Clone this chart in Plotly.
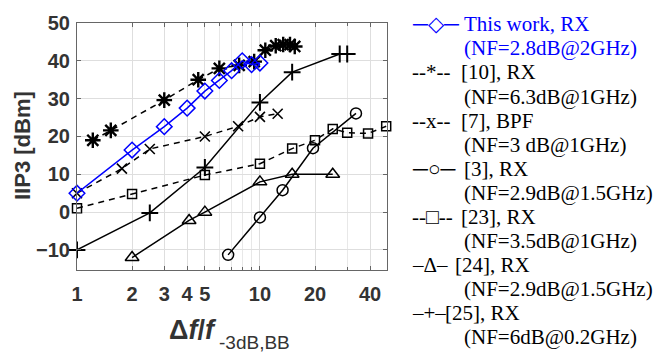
import plotly.graph_objects as go
import math

# ---- data ----
this_x = [1, 2, 3, 4, 5, 6, 7, 8, 9, 10]
this_y = [5, 16.4, 22.6, 27.5, 32, 34.8, 37.4, 40, 39, 39.4]

r10_x = [1.22, 1.53, 3, 4.6, 6, 7.7, 9.3, 10.7, 12.2, 13.4, 14.6, 15.5]
r10_y = [19, 21.6, 29.6, 35, 38, 38.8, 39.8, 42.8, 44, 44.3, 44.3, 43.8]

r7_x = [1, 1.76, 2.5, 5, 7.6, 10, 12.5]
r7_y = [5, 11.5, 16.7, 20, 22.7, 25.2, 26]

r3_x = [6.7, 10, 13.3, 19.5, 33.5]
r3_y = [-11.3, -1.4, 5.8, 16.9, 26.1]

r23_x = [1, 2, 5, 10, 15, 20, 25, 30, 39, 49]
r23_y = [1, 4.8, 9.8, 12.8, 16.8, 19, 22, 21, 20.8, 22.7]

r24_x = [2, 4.1, 5, 10, 15, 25]
r24_y = [-12, -2.2, 0, 8, 10, 10]

r25_x = [1, 2.5, 5, 10, 15, 27.3, 30]
r25_y = [-10, -0.2, 11.8, 29, 37, 41.8, 41.8]

x_ticks = [1, 2, 3, 4, 5, 10, 20, 40]
y_ticks = [-10, 0, 10, 20, 30, 40, 50]

legend_syms = ["─◇─", "--*--", "--x--", "─○─", "--□--", "–Δ–", "–+–"]
legend_names = ["This work, RX", "[10], RX", "[7], BPF", "[3], RX",
                "[23], RX", "[24], RX", "[25], RX"]
legend_nf = ["(NF=2.8dB@2GHz)", "(NF=6.3dB@1GHz)", "(NF=3 dB@1GHz)",
             "(NF=2.9dB@1.5GHz)", "(NF=3.5dB@1GHz)", "(NF=2.9dB@1.5GHz)",
             "(NF=6dB@0.2GHz)"]
legend_colors = ["blue", "black", "black", "black", "black", "black", "black"]
legend_name_x = [462, 459, 459, 462, 459, 453, 443]

W, H = 654, 352
L, R, T, B = 77, 387, 17, 270

fig = go.Figure()

def add(x, y, sym, size, color="black", dash="solid", lw=1.5, mlw=1.5):
    fig.add_trace(go.Scatter(
        x=x, y=y, mode="lines+markers",
        line=dict(color=color, width=lw, dash=dash),
        marker=dict(symbol=sym, size=size, color=color,
                    line=dict(color=color, width=mlw)),
        showlegend=False, cliponaxis=False))

dash = "6px,5px"
add(r23_x, r23_y, "square-open", 9, dash=dash)
add(r3_x, r3_y, "circle-open", 11)
add(r24_x, r24_y, "triangle-up-open", 12)
add(r25_x, r25_y, "cross-thin-open", 12, mlw=2)
add(r7_x, r7_y, "x-thin-open", 10, dash=dash, mlw=1.6)
add(r10_x, r10_y, "asterisk-open", 13, dash=dash, mlw=2.4)
add(this_x, this_y, "diamond-open", 12, color="blue")

grid = "#dedede"
fig.update_xaxes(
    type="log", range=[0, math.log10(49.5)],
    tickvals=x_ticks, ticktext=[str(v) for v in x_ticks],
    showgrid=True, gridcolor=grid, gridwidth=1,
    minor=dict(showgrid=True, gridcolor="#e8e8e8", gridwidth=1,
               tickvals=[2, 3, 4, 5, 6, 7, 8, 9, 20, 30, 40],
               ticks="inside", ticklen=3, tickcolor="#666"),
    showline=True, linecolor="#666", linewidth=1, mirror="ticks",
    ticks="inside", ticklen=4, tickcolor="#666",
    tickfont=dict(family="Liberation Sans, Arial", size=20, color="#333", weight="bold"),
    ticklabelstandoff=6, zeroline=False,
)
fig.update_yaxes(
    range=[-15.3, 50], tickvals=y_ticks,
    showgrid=True, gridcolor=grid, gridwidth=1,
    showline=True, linecolor="#666", linewidth=1, mirror="ticks",
    ticks="inside", ticklen=4, tickcolor="#666",
    tickfont=dict(family="Liberation Sans, Arial", size=20, color="#333", weight="bold"),
    ticklabelstandoff=2, zeroline=False,
)

annotations = []
def px2paper(px, py):
    return (px - L) / (R - L), (B - py) / (B - T)

def txt(px, py, text, size, color, family, anchor="left", weight="normal", angle=0):
    ax, ay = px2paper(px, py)
    annotations.append(dict(
        x=ax, y=ay, xref="paper", yref="paper", xanchor=anchor, yanchor="middle",
        text=text, showarrow=False, textangle=angle,
        font=dict(family=family, size=size, color=color, weight=weight)))

sans = "Liberation Sans, Arial"
serif = "Liberation Serif, Times New Roman"

# axis titles
txt(193, 331, "Δ<i>f</i>/<i>f</i>", 27, "#333", sans, anchor="center", weight="bold")
txt(217, 344, "-3dB,BB", 19, "#333", sans)
txt(22, 143, "IIP3 [dBm]", 22, "#333", sans, anchor="center", weight="bold", angle=-90)

# text legend
row0, step = 18.5, 24.6
for i in range(len(legend_syms)):
    y1 = row0 + step * (2 * i)
    y2 = row0 + step * (2 * i + 1)
    col = legend_colors[i]
    txt(410, y1, legend_syms[i], 21, col, serif)
    txt(legend_name_x[i], y1, legend_names[i], 21, col, serif)
    txt(462, y2, legend_nf[i], 21, col, serif)

fig.update_layout(
    width=W, height=H,
    margin=dict(l=L, r=W - R, t=T, b=H - B),
    paper_bgcolor="white", plot_bgcolor="white",
    annotations=annotations,
)

fig.write_html("out.html")
